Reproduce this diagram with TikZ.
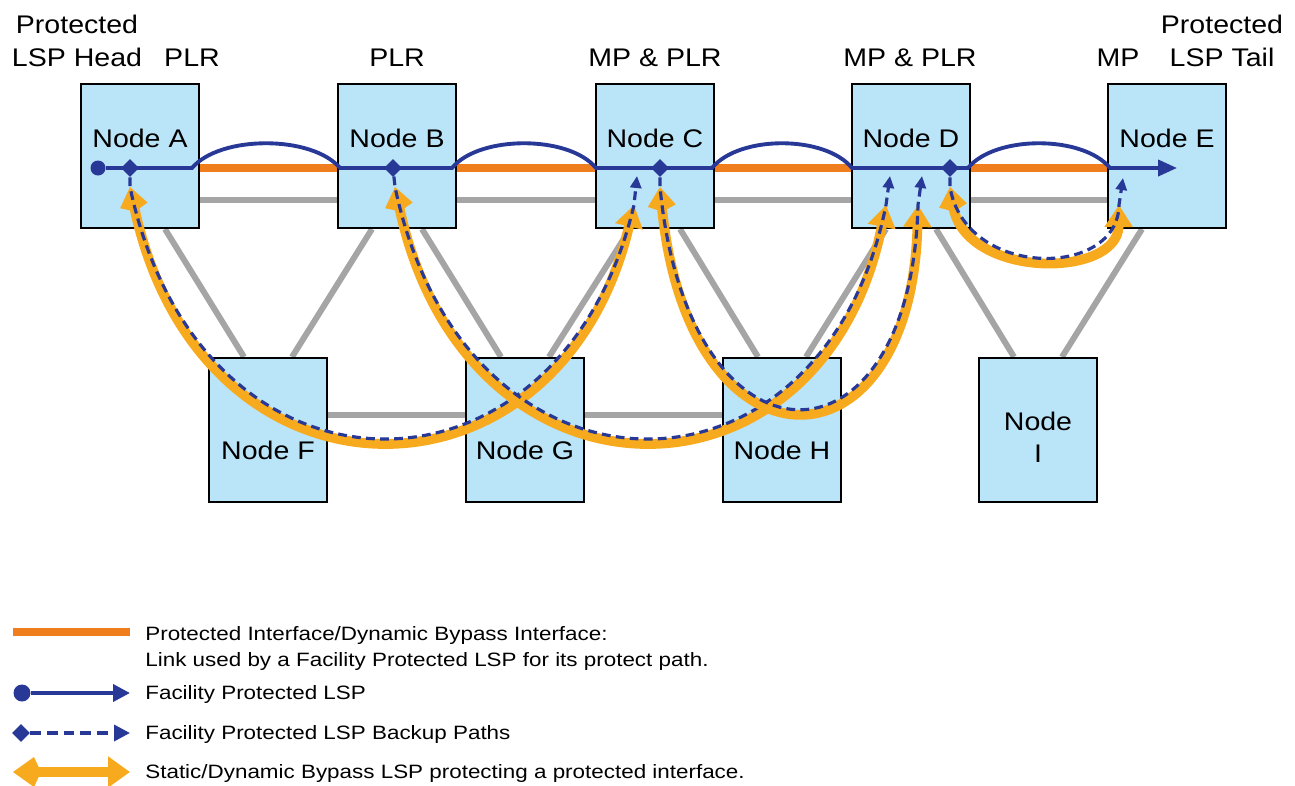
\documentclass[tikz,border=0pt]{standalone}
\usepackage{fontspec}
\setmainfont[FakeStretch=1.12]{Liberation Sans}
\newfontfamily\legendfont[FakeStretch=1.16]{Liberation Sans}
\usetikzlibrary{arrows.meta,shapes.geometric,backgrounds}

\definecolor{nodefill}{RGB}{186,228,248}
\definecolor{lspblue}{RGB}{40,56,150}
\definecolor{ifaceorange}{RGB}{240,125,30}
\definecolor{bypassyellow}{RGB}{248,170,30}
\definecolor{linkgray}{RGB}{165,165,165}

\begin{document}
\begin{tikzpicture}[x=0.02cm, y=-0.02cm,
    nodebox/.style={draw=black, line width=1.2pt, fill=nodefill, minimum width=2.36cm, minimum height=2.88cm, inner sep=0pt},
    nodetext/.style={font=\fontsize{14.5}{17}\selectfont, anchor=base, inner sep=0pt},
    legendtext/.style={font=\legendfont\fontsize{11}{14}\selectfont, anchor=base west, inner sep=0pt},
    link/.style={draw=linkgray, line width=3.4pt},
    iface/.style={draw=ifaceorange, line width=4.5pt},
    lsp/.style={draw=lspblue, line width=2.2pt},
    backup/.style={draw=lspblue, line width=1.8pt, dash pattern=on 5pt off 3pt},
    bypass/.style={draw=bypassyellow, line width=5.6pt},
    headdot/.style={circle, fill=lspblue, minimum size=0.3cm, inner sep=0pt},
    plrdot/.style={diamond, fill=lspblue, minimum size=0.36cm, inner sep=0pt}]

    \useasboundingbox (0,0) rectangle (1295,785);

    % Boxes
    \foreach \n/\x/\y in {A/140/156, B/397/156, C/655/156, D/911/156, E/1167/156,
                          F/268/430, G/525/430, H/782/430, I/1038/430}
        \node[nodebox] (\n) at (\x,\y) {};

    % Box names
    \foreach \n/\x in {A/140, B/397, C/655, D/911, E/1167}
        \node[nodetext] (t\n) at (\x,147) {Node \n};
    \foreach \n/\x in {F/268, G/525, H/782}
        \node[nodetext] (t\n) at (\x,459) {Node \n};
    \node[nodetext] (tI) at (1038,430) {Node};
    \node[nodetext] (tI2) at (1038,462) {I};

    % Roles above the boxes
    \node[nodetext] (head1) at (77,33) {Protected};
    \node[nodetext] (head2) at (77,66) {LSP Head};
    \node[nodetext] (plrA) at (192,66) {PLR};
    \node[nodetext] (plrB) at (397,66) {PLR};
    \node[nodetext] (mpC) at (655,66) {MP \& PLR};
    \node[nodetext] (mpD) at (910,66) {MP \& PLR};
    \node[nodetext] (mpE) at (1118,66) {MP};
    \node[nodetext] (tail1) at (1222,33) {Protected};
    \node[nodetext] (tail2) at (1222,66) {LSP Tail};

    % Links behind the boxes
    \begin{scope}[on background layer]
        \foreach \a/\b in {A/B, B/C, C/D, D/E} {
            \draw[link] ([yshift=-0.88cm]\a.east) -- ([yshift=-0.88cm]\b.west);
            \draw[iface] ([yshift=-0.24cm]\a.east) -- ([yshift=-0.24cm]\b.west);
        }
        \foreach \a/\b in {F/G, G/H}
            \draw[link] ([yshift=0.3cm]\a.east) -- ([yshift=0.3cm]\b.west);
        \foreach \t/\b/\s in {A/F/1, B/F/-1, B/G/1, C/G/-1, C/H/1, D/H/-1, D/I/1, E/I/-1}
            \draw[link] ([xshift=\s*0.5cm]\t.south) -- ([xshift=-\s*0.48cm]\b.north);
    \end{scope}

    % Protected LSP
    \node[headdot] (hA) at (98,168) {};
    \coordinate (tipE) at (1177,168);
    \draw[lsp, -{Triangle[length=0.38cm,width=0.32cm]}] (hA)
        -- (192,168) .. controls (220,135) and (312,135) .. (340,168)
        -- (452,168) .. controls (479,135) and (569,135) .. (596,168)
        -- (712,168) .. controls (739,135) and (825,135) .. (852,168)
        -- (968,168) .. controls (995,135) and (1083,135) .. (1110,168)
        -- (tipE);

    % Points of local repair
    \foreach \n/\x in {A/130, B/393, C/660, D/950}
        \node[plrdot] (p\n) at (\x,168) {};

    % Bypass LSPs and backup paths
    \coordinate (s1) at (130,187); \coordinate (e1) at (634,205); \coordinate (m1) at (637,176);
    \coordinate (s2) at (395,187); \coordinate (e2) at (886,205); \coordinate (m2) at (890,176);
    \coordinate (s3) at (660,187); \coordinate (e3) at (918,205); \coordinate (m3) at (922,176);
    \coordinate (s4) at (950,187); \coordinate (e4) at (1119,205); \coordinate (m4) at (1123,178);

    \draw[bypass, {Kite[length=0.5cm,width=0.56cm]}-{Triangle[length=0.44cm,width=0.54cm]}]
        (s1) .. controls (200,520) and (560,520) .. (e1);
    \draw[backup, -{Triangle[length=0.24cm,width=0.22cm]}]
        (pA) -- (s1) .. controls (200,520) and (560,520) .. (e1) -- (m1);

    \draw[bypass, {Kite[length=0.5cm,width=0.56cm]}-{Triangle[length=0.44cm,width=0.54cm]}]
        (s2) .. controls (465,520) and (823,520) .. (e2);
    \draw[backup, -{Triangle[length=0.24cm,width=0.22cm]}]
        (pB) -- (s2) .. controls (465,520) and (823,520) .. (e2) -- (m2);

    \draw[bypass, {Kite[length=0.5cm,width=0.56cm]}-{Triangle[length=0.44cm,width=0.54cm]}]
        (s3) .. controls (688,481) and (911,481) .. (e3);
    \draw[backup, -{Triangle[length=0.24cm,width=0.22cm]}]
        (pC) -- (s3) .. controls (688,481) and (911,481) .. (e3) -- (m3);

    \draw[bypass, {Kite[length=0.5cm,width=0.56cm]}-{Triangle[length=0.44cm,width=0.54cm]}]
        (s4) .. controls (965,279) and (1118,279) .. (e4);
    \draw[backup, -{Triangle[length=0.24cm,width=0.22cm]}]
        (pD) -- (s4) .. controls (965,279) and (1118,279) .. (e4) -- (m4);

    % Legend
    \coordinate (lo1) at (13,632); \coordinate (lo2) at (130,632);
    \draw[iface] (lo1) -- (lo2);
    \node[legendtext] (leg1a) at (145,640) {Protected Interface/Dynamic Bypass Interface:};
    \node[legendtext] (leg1b) at (145,666) {Link used by a Facility Protected LSP for its protect path.};

    \node[headdot, minimum size=0.34cm] (lb1) at (22,693) {};
    \coordinate (lb2) at (130,693);
    \draw[lsp, -{Triangle[length=0.34cm,width=0.34cm]}] (lb1) -- (lb2);
    \node[legendtext] (leg2) at (145,699) {Facility Protected LSP};

    \node[plrdot, minimum size=0.36cm] (ld1) at (21,733) {};
    \coordinate (ld2) at (130,733);
    \draw[backup, line width=2pt, dash pattern=on 6pt off 3.5pt, -{Triangle[length=0.32cm,width=0.32cm]}] (ld1) -- (ld2);
    \node[legendtext] (leg3) at (145,739) {Facility Protected LSP Backup Paths};

    \coordinate (ly1) at (13,772); \coordinate (ly2) at (130,772);
    \draw[bypass, {Kite[length=0.56cm,width=0.6cm]}-{Triangle[length=0.44cm,width=0.6cm]}] (ly1) -- (ly2);
    \node[legendtext] (leg4) at (145,778) {Static/Dynamic Bypass LSP protecting a protected interface.};

\end{tikzpicture}
\end{document}
